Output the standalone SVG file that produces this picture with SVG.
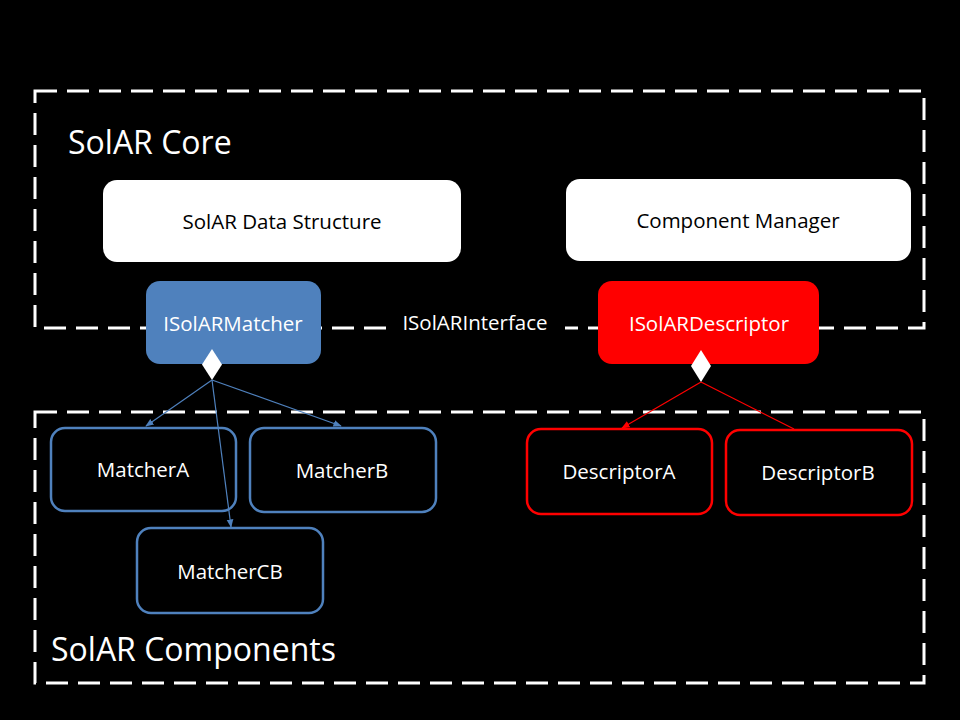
<svg xmlns="http://www.w3.org/2000/svg" width="960" height="720" viewBox="0 0 960 720">
<defs>
<style>
.frame{fill:none;stroke:#fff;stroke-width:3;stroke-dasharray:22 10}
.t{font-family:"Open Sans","Liberation Sans",Arial,sans-serif;text-anchor:middle;dominant-baseline:central;font-size:20.5px}
.big{font-family:"Open Sans","Liberation Sans",Arial,sans-serif;font-size:32px;fill:#fff}
.w{fill:#fff}
.blue{fill:#000;stroke:#4F81BD;stroke-width:2.5}
.red{fill:#000;stroke:#FF0000;stroke-width:2.5}
.bl{stroke:#4F81BD;stroke-width:1.2;fill:none}
.rl{stroke:#FF0000;stroke-width:1.2;fill:none}
</style>
<marker id="ab" viewBox="0 0 10 10" refX="9" refY="5" markerWidth="7" markerHeight="7" orient="auto"><path d="M0,1 L10,5 L0,9 z" fill="#4F81BD"/></marker>
<marker id="ar" viewBox="0 0 10 10" refX="9" refY="5" markerWidth="7" markerHeight="7" orient="auto"><path d="M0,1 L10,5 L0,9 z" fill="#FF0000"/></marker>
</defs>
<rect width="960" height="720" fill="#000"/>
<g id="core-frame">
<rect class="frame" x="35" y="91" width="889" height="237"/>
<text class="big" x="68" y="154">SolAR Core</text>
</g>
<g id="components-frame">
<rect class="frame" x="35" y="412" width="889" height="271"/>
<text class="big" x="51" y="661">SolAR Components</text>
</g>
<g id="data-structure">
<rect x="103" y="180" width="358" height="82" rx="14" fill="#fff"/>
<text class="t" x="282" y="221" fill="#000">SolAR Data Structure</text>
</g>
<g id="component-manager">
<rect x="566" y="179" width="345" height="82" rx="14" fill="#fff"/>
<text class="t" x="738" y="220" fill="#000">Component Manager</text>
</g>
<g id="isolar-interface">
<rect x="390" y="308" width="175" height="28" fill="#000"/>
<text class="t w" x="475" y="322">ISolARInterface</text>
</g>
<g id="isolar-matcher">
<rect x="146" y="281" width="175" height="83" rx="14" fill="#4F81BD"/>
<text class="t w" x="233" y="323">ISolARMatcher</text>
</g>
<g id="isolar-descriptor">
<rect x="598" y="281" width="221" height="83" rx="14" fill="#FF0000"/>
<text class="t w" x="709" y="323">ISolARDescriptor</text>
</g>
<g id="matcherA">
<rect class="blue" x="51" y="428" width="185" height="83" rx="14"/>
<text class="t w" x="143" y="469">MatcherA</text>
</g>
<g id="matcherB">
<rect class="blue" x="250" y="428" width="186" height="84" rx="14"/>
<text class="t w" x="342" y="470">MatcherB</text>
</g>
<g id="matcherCB">
<rect class="blue" x="137" y="528" width="186" height="85" rx="14"/>
<text class="t w" x="230" y="571">MatcherCB</text>
</g>
<g id="descriptorA">
<rect class="red" x="527" y="429" width="185" height="85" rx="14"/>
<text class="t w" x="619" y="471">DescriptorA</text>
</g>
<g id="descriptorB">
<rect class="red" x="726" y="430" width="186" height="85" rx="14"/>
<text class="t w" x="818" y="472">DescriptorB</text>
</g>
<g id="connectors">
<line class="bl" x1="212" y1="380" x2="146" y2="426" marker-end="url(#ab)"/>
<line class="bl" x1="212" y1="380" x2="341" y2="426" marker-end="url(#ab)"/>
<line class="bl" x1="212" y1="380" x2="231" y2="527" marker-end="url(#ab)"/>
<polygon points="212,349 222,364.5 212,380 202,364.5" fill="#fff"/>
<line class="rl" x1="701" y1="382" x2="622" y2="428" marker-end="url(#ar)"/>
<line class="rl" x1="701" y1="382" x2="794" y2="429"/>
<polygon points="701,350 711,366 701,382 691,366" fill="#fff"/>
</g>
</svg>
